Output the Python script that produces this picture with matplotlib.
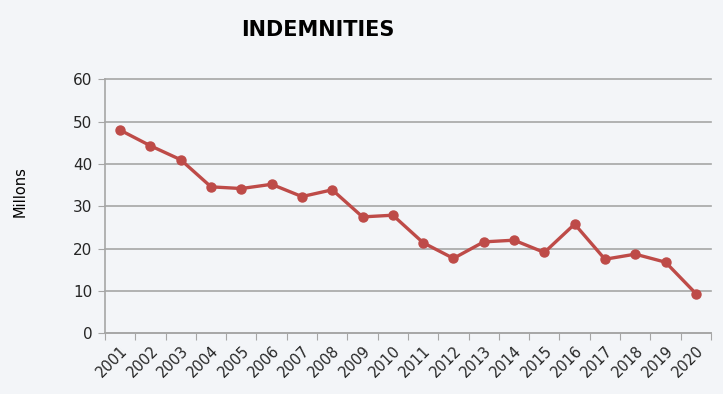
import matplotlib.pyplot as plt
import numpy as np

# Dados
anos = [str(a) for a in range(2001, 2021)]
indenizacoes = [48.0, 44.3, 41.0, 34.6, 34.2, 35.2, 32.3, 33.9, 27.5, 27.9,
                21.4, 17.7, 21.6, 22.0, 19.1, 25.8, 17.5, 18.7, 16.8, 9.4]
yticks = [0, 10, 20, 30, 40, 50, 60]

bg = '#F3F5F8'
vermelho = '#BE4B48'
cinza = '#A6A6A6'

fig = plt.figure(figsize=(7.23, 3.94), dpi=100, facecolor=bg)
ax = fig.add_axes([0.1452, 0.154, 0.8382, 0.6447], facecolor=bg)

x = np.arange(len(anos))
ax.plot(x, indenizacoes, color=vermelho, lw=2.4, marker='o', ms=6.5, zorder=3)

ax.set_xlim(-0.5, len(anos) - 0.5)
ax.set_ylim(0, 60)
ax.set_yticks(yticks)
ax.set_yticklabels([str(v) for v in yticks], fontsize=11, color='#262626')

# ticks nas fronteiras das categorias, rótulos no centro
ax.set_xticks(np.arange(len(anos) + 1) - 0.5)
ax.set_xticklabels([])
ax.set_xticks(x, minor=True)
ax.set_xticklabels(anos, minor=True, rotation=45, ha='right', rotation_mode='anchor',
                   fontsize=10.5, color='#262626')
ax.tick_params(axis='x', which='minor', length=0, pad=7)
ax.tick_params(axis='x', which='major', length=5, color=cinza, direction='out')
ax.tick_params(axis='y', length=5, color=cinza, direction='out', pad=4)

ax.grid(axis='y', color=cinza, lw=1.2)
ax.set_axisbelow(True)
for s in ['top', 'right']:
    ax.spines[s].set_visible(False)
for s in ['left', 'bottom']:
    ax.spines[s].set_color(cinza)
    ax.spines[s].set_linewidth(1.2)
for gl in ax.get_ygridlines():
    gl.set_clip_on(False)

fig.text(0.44, 0.925, 'INDEMNITIES', ha='center', va='center', fontsize=15,
         fontweight='bold', color='black')
fig.text(0.028, 0.515, 'Millons', ha='center', va='center', rotation=90,
         fontsize=10.5, color='black')

plt.savefig('out.png', dpi=100, facecolor=bg)
